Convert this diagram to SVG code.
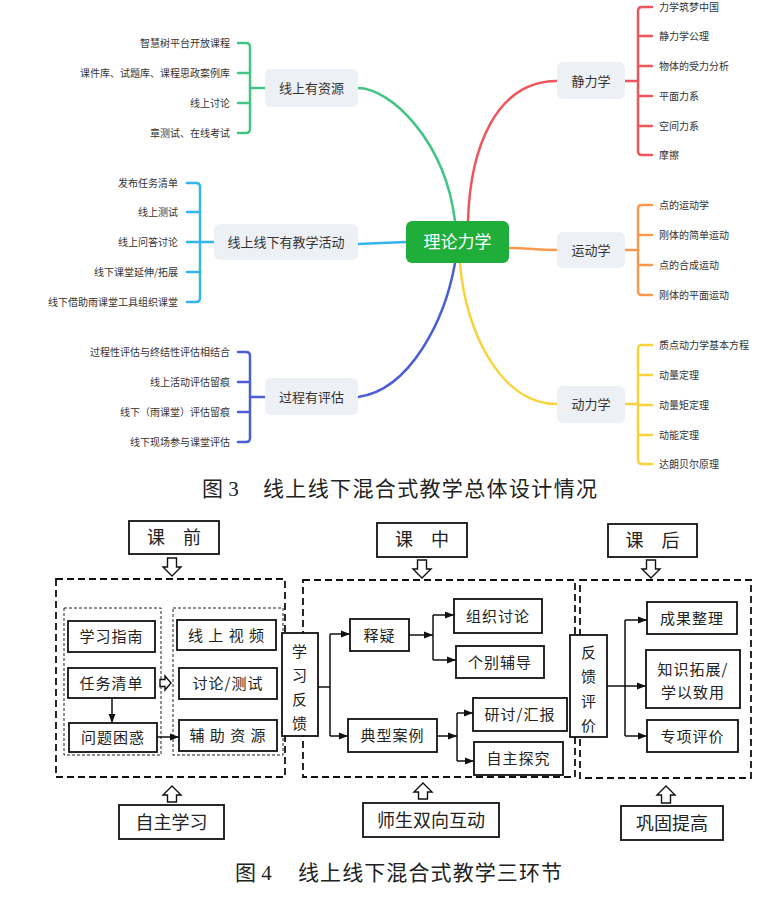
<svg xmlns="http://www.w3.org/2000/svg" width="772" height="909" viewBox="0 0 772 909">
<style>
text{font-family:"Noto Sans CJK SC","Noto Sans",sans-serif}
.mm{fill:none;stroke-width:2.5;stroke-linecap:round;stroke-linejoin:round}
.it{font-size:10px;fill:#333}
.end{text-anchor:end}
.nd{fill:#edf0f4}
.nt{font-size:13px;fill:#333;text-anchor:middle}
.bx{fill:#fff;stroke:#111;stroke-width:1.8}
.dsh{fill:none;stroke:#111;stroke-width:1.8;stroke-dasharray:7 4}
.dot{fill:none;stroke:#222;stroke-width:1;stroke-dasharray:3 2}
.ln{fill:none;stroke:#111;stroke-width:1.5}
.ha{fill:#fff;stroke:#111;stroke-width:1.4;stroke-linejoin:miter}
.bt{font-size:15px;text-anchor:middle;fill:#222;letter-spacing:1px}
.lt{font-size:18px;text-anchor:middle;fill:#222}
.cap{font-family:"Liberation Serif","Noto Sans CJK SC",serif;font-size:21px;fill:#222}
</style>
<defs>
<marker id="ah" markerWidth="9" markerHeight="8" refX="9" refY="4" orient="auto" markerUnits="userSpaceOnUse"><path d="M0,0.5 L9,4 L0,7.5 z" fill="#111"/></marker>
</defs>
<rect width="772" height="909" fill="#fff"/>

<!-- ===== Figure 3 mind map ===== -->
<g id="mindmap-connectors">
<path class="mm" stroke="#42c584" d="M358,88 C390,88 445,140 455,221"/>
<path class="mm" stroke="#f0545c" d="M468,221 C470,150 495,81 557,81"/>
<path class="mm" stroke="#f79a50" d="M509,248 C530,248 535,250 557,250"/>
<path class="mm" stroke="#35b5ee" d="M358,244 L406,242"/>
<path class="mm" stroke="#f9d33b" d="M460,263 C465,330 500,404 557,404"/>
<path class="mm" stroke="#4b5ed6" d="M455,263 C445,320 410,390 358,397"/>
<path class="mm" stroke="#42c584" d="M238,43 H246 Q250,43 250,47 V129 Q250,133 246,133 H238 M238,73 H250 M238,103 H250 M250,88 H265"/>
<path class="mm" stroke="#35b5ee" d="M187,183 H196 Q200,183 200,187 V298 Q200,302 196,302 H187 M187,212 H200 M187,242 H214 M187,272 H200"/>
<path class="mm" stroke="#4b5ed6" d="M238,352 H246 Q250,352 250,356 V438 Q250,442 246,442 H238 M238,382 H250 M238,412 H250 M250,397 H265"/>
<path class="mm" stroke="#f0545c" d="M652,7 H642 Q638,7 638,11 V151 Q638,155 642,155 H652 M638,36 H652 M638,66 H652 M638,96 H652 M638,126 H652 M625,81 H638"/>
<path class="mm" stroke="#f79a50" d="M652,205 H642 Q638,205 638,209 V291 Q638,295 642,295 H652 M638,235 H652 M638,265 H652 M625,250 H638"/>
<path class="mm" stroke="#f9d33b" d="M652,345 H642 Q638,345 638,349 V460 Q638,464 642,464 H652 M638,375 H652 M638,405 H652 M638,435 H652 M625,404 H638"/>
</g>

<g id="center-node">
<rect x="406" y="221" width="103" height="42" rx="6" fill="#1fae3a"/>
<text x="457.5" y="248" font-size="17" fill="#fff" text-anchor="middle">理论力学</text>
</g>

<g id="node-online-resources">
<rect class="nd" x="265" y="69" width="93" height="38" rx="6"/>
<text class="nt" x="311.5" y="92.5">线上有资源</text>
<text class="it end" x="230" y="46.5">智慧树平台开放课程</text>
<text class="it end" x="230" y="76.5">课件库、试题库、课程思政案例库</text>
<text class="it end" x="230" y="106.5">线上讨论</text>
<text class="it end" x="230" y="136.5">章测试、在线考试</text>
</g>

<g id="node-activities">
<rect class="nd" x="214" y="224" width="144" height="36" rx="6"/>
<text class="nt" x="286" y="246.5">线上线下有教学活动</text>
<text class="it end" x="178" y="186.5">发布任务清单</text>
<text class="it end" x="178" y="215.5">线上测试</text>
<text class="it end" x="178" y="245.5">线上问答讨论</text>
<text class="it end" x="178" y="275.5">线下课堂延伸/拓展</text>
<text class="it end" x="178" y="305.5">线下借助雨课堂工具组织课堂</text>
</g>

<g id="node-evaluation">
<rect class="nd" x="265" y="378" width="93" height="37" rx="6"/>
<text class="nt" x="311.5" y="401.5">过程有评估</text>
<text class="it end" x="230" y="355.5">过程性评估与终结性评估相结合</text>
<text class="it end" x="230" y="385.5">线上活动评估留痕</text>
<text class="it end" x="230" y="415.5">线下（雨课堂）评估留痕</text>
<text class="it end" x="230" y="445.5">线下现场参与课堂评估</text>
</g>

<g id="node-statics">
<rect class="nd" x="557" y="62" width="68" height="37" rx="6"/>
<text class="nt" x="591" y="85.5">静力学</text>
<text class="it" x="659" y="11">力学筑梦中国</text>
<text class="it" x="659" y="39.5">静力学公理</text>
<text class="it" x="659" y="69.5">物体的受力分析</text>
<text class="it" x="659" y="99.5">平面力系</text>
<text class="it" x="659" y="129.5">空间力系</text>
<text class="it" x="659" y="158.5">摩擦</text>
</g>

<g id="node-kinematics">
<rect class="nd" x="557" y="232" width="68" height="36" rx="6"/>
<text class="nt" x="591" y="254.5">运动学</text>
<text class="it" x="659" y="208.5">点的运动学</text>
<text class="it" x="659" y="238.5">刚体的简单运动</text>
<text class="it" x="659" y="268.5">点的合成运动</text>
<text class="it" x="659" y="298.5">刚体的平面运动</text>
</g>

<g id="node-dynamics">
<rect class="nd" x="557" y="386" width="68" height="37" rx="6"/>
<text class="nt" x="591" y="409">动力学</text>
<text class="it" x="659" y="348.5">质点动力学基本方程</text>
<text class="it" x="659" y="378.5">动量定理</text>
<text class="it" x="659" y="408.5">动量矩定理</text>
<text class="it" x="659" y="438.5">动能定理</text>
<text class="it" x="659" y="467.5">达朗贝尔原理</text>
</g>

<g id="caption-3">
<text class="cap" x="202" y="496">图 3</text>
<text class="cap" x="263" y="496" textLength="334" lengthAdjust="spacing">线上线下混合式教学总体设计情况</text>
</g>

<!-- ===== Figure 4 ===== -->
<g id="groups-dashed">
<rect class="dsh" x="56" y="579" width="229" height="198"/>
<rect class="dsh" x="303" y="580" width="272" height="197"/>
<rect class="dsh" x="580" y="580" width="171" height="198"/>
<rect class="dot" x="64" y="608" width="97" height="147"/>
<rect class="dot" x="173" y="608" width="110" height="147"/>
</g>

<g id="connectors">
<line class="ln" x1="112" y1="698" x2="112" y2="723" marker-end="url(#ah)"/>
<line class="ln" x1="157" y1="737" x2="179" y2="737" marker-end="url(#ah)"/>
<path class="ln" d="M318,687 H330 M330,634 V736"/>
<line class="ln" x1="330" y1="634" x2="350" y2="634" marker-end="url(#ah)"/>
<line class="ln" x1="330" y1="736" x2="348" y2="736" marker-end="url(#ah)"/>
<line class="ln" x1="409" y1="635" x2="433" y2="635" marker-end="url(#ah)"/>
<path class="ln" d="M433,615 V660"/>
<line class="ln" x1="433" y1="615" x2="454" y2="615" marker-end="url(#ah)"/>
<line class="ln" x1="433" y1="660" x2="456" y2="660" marker-end="url(#ah)"/>
<line class="ln" x1="437" y1="736" x2="457" y2="736" marker-end="url(#ah)"/>
<path class="ln" d="M457,713 V761"/>
<line class="ln" x1="457" y1="713" x2="473" y2="713" marker-end="url(#ah)"/>
<line class="ln" x1="457" y1="761" x2="474" y2="761" marker-end="url(#ah)"/>
<path class="ln" d="M607,686 H625 M625,620 V736"/>
<line class="ln" x1="625" y1="620" x2="647" y2="620" marker-end="url(#ah)"/>
<line class="ln" x1="625" y1="686" x2="646" y2="686" marker-end="url(#ah)"/>
<line class="ln" x1="625" y1="736" x2="647" y2="736" marker-end="url(#ah)"/>
<polygon class="ha" points="167.5,558 176.5,558 176.5,567 181,567 172,576 163,567 167.5,567"/>
<polygon class="ha" points="417.5,560 426.5,560 426.5,569 431,569 422,578 413,569 417.5,569"/>
<polygon class="ha" points="646.5,560 655.5,560 655.5,569 660,569 651,578 642,569 646.5,569"/>
<polygon class="ha" points="167.5,802 176.5,802 176.5,795 181,795 172,786 163,795 167.5,795"/>
<polygon class="ha" points="418.5,799 427.5,799 427.5,792 432,792 423,783 414,792 418.5,792"/>
<polygon class="ha" points="661.5,803 670.5,803 670.5,795 675,795 666,786 657,795 661.5,795"/>
<polygon class="ha" points="160,679.5 165,679.5 165,676 171,683 165,690 165,686.5 160,686.5"/>
</g>

<g id="box-keqian"><rect class="bx" x="129" y="521" width="90" height="33"/><text class="lt" x="174" y="543.5">课　前</text></g>
<g id="box-kezhong"><rect class="bx" x="377" y="523" width="90" height="34"/><text class="lt" x="422" y="546">课　中</text></g>
<g id="box-kehou"><rect class="bx" x="608" y="524" width="89" height="33"/><text class="lt" x="652.5" y="546.5">课　后</text></g>

<g id="box-xuexizhinan"><rect class="bx" x="68" y="621" width="87" height="31"/><text class="bt" x="111.5" y="642">学习指南</text></g>
<g id="box-renwuqingdan"><rect class="bx" x="68" y="668" width="87" height="30"/><text class="bt" x="111.5" y="688.5">任务清单</text></g>
<g id="box-wentikunhuo"><rect class="bx" x="69" y="723" width="88" height="29"/><text class="bt" x="113" y="743">问题困惑</text></g>
<g id="box-xianshangshipin"><rect class="bx" x="177" y="620" width="99" height="30"/><text class="bt" x="226.5" y="640.5">线 上 视 频</text></g>
<g id="box-taolunceshi"><rect class="bx" x="179" y="668" width="98" height="31"/><text class="bt" x="228" y="689">讨论/测试</text></g>
<g id="box-fuzhuziyuan"><rect class="bx" x="179" y="720" width="98" height="31"/><text class="bt" x="228" y="741">辅 助 资 源</text></g>

<g id="box-xuexifankui"><rect class="bx" x="282" y="633" width="36" height="103"/>
<text class="bt" x="300" y="657"><tspan x="300" y="657">学</tspan><tspan x="300" y="680.5">习</tspan><tspan x="300" y="705">反</tspan><tspan x="300" y="728.5">馈</tspan></text></g>

<g id="box-shiyi"><rect class="bx" x="350" y="619" width="59" height="32"/><text class="bt" x="379.5" y="640.5">释疑</text></g>
<g id="box-zuzhitaolun"><rect class="bx" x="454" y="599" width="88" height="34"/><text class="bt" x="498" y="621.5">组织讨论</text></g>
<g id="box-gebiefudao"><rect class="bx" x="456" y="646" width="88" height="32"/><text class="bt" x="500" y="667.5">个别辅导</text></g>
<g id="box-dianxinganli"><rect class="bx" x="348" y="719" width="89" height="33"/><text class="bt" x="392.5" y="741">典型案例</text></g>
<g id="box-yantaohuibao"><rect class="bx" x="473" y="698" width="94" height="33"/><text class="bt" x="520" y="720">研讨/汇报</text></g>
<g id="box-zizhutanjiu"><rect class="bx" x="474" y="742" width="89" height="33"/><text class="bt" x="518.5" y="764">自主探究</text></g>

<g id="box-fankuipingjia"><rect class="bx" x="570" y="635" width="37" height="102"/>
<text class="bt" x="589" y="658"><tspan x="589" y="658">反</tspan><tspan x="589" y="682">馈</tspan><tspan x="589" y="707">评</tspan><tspan x="589" y="730.5">价</tspan></text></g>

<g id="box-chengguozhengli"><rect class="bx" x="647" y="602" width="90" height="32"/><text class="bt" x="692" y="623.5">成果整理</text></g>
<g id="box-zhishituozhan"><rect class="bx" x="646" y="650" width="94" height="58"/><text class="bt" x="693" y="675"><tspan x="693" y="675">知识拓展/</tspan><tspan x="693" y="698">学以致用</tspan></text></g>
<g id="box-zhuanxiangpingjia"><rect class="bx" x="647" y="720" width="91" height="32"/><text class="bt" x="692.5" y="741.5">专项评价</text></g>

<g id="box-zizhuxuexi"><rect class="bx" x="119" y="805" width="105" height="34"/><text class="lt" x="171.5" y="828.5">自主学习</text></g>
<g id="box-shishenghudong"><rect class="bx" x="363" y="803" width="136" height="34"/><text class="lt" x="431" y="826.5">师生双向互动</text></g>
<g id="box-gonggutigao"><rect class="bx" x="621" y="806" width="102" height="34"/><text class="lt" x="672" y="829.5">巩固提高</text></g>

<g id="caption-4">
<text class="cap" x="235" y="880">图 4</text>
<text class="cap" x="298" y="880" textLength="264" lengthAdjust="spacing">线上线下混合式教学三环节</text>
</g>
</svg>
